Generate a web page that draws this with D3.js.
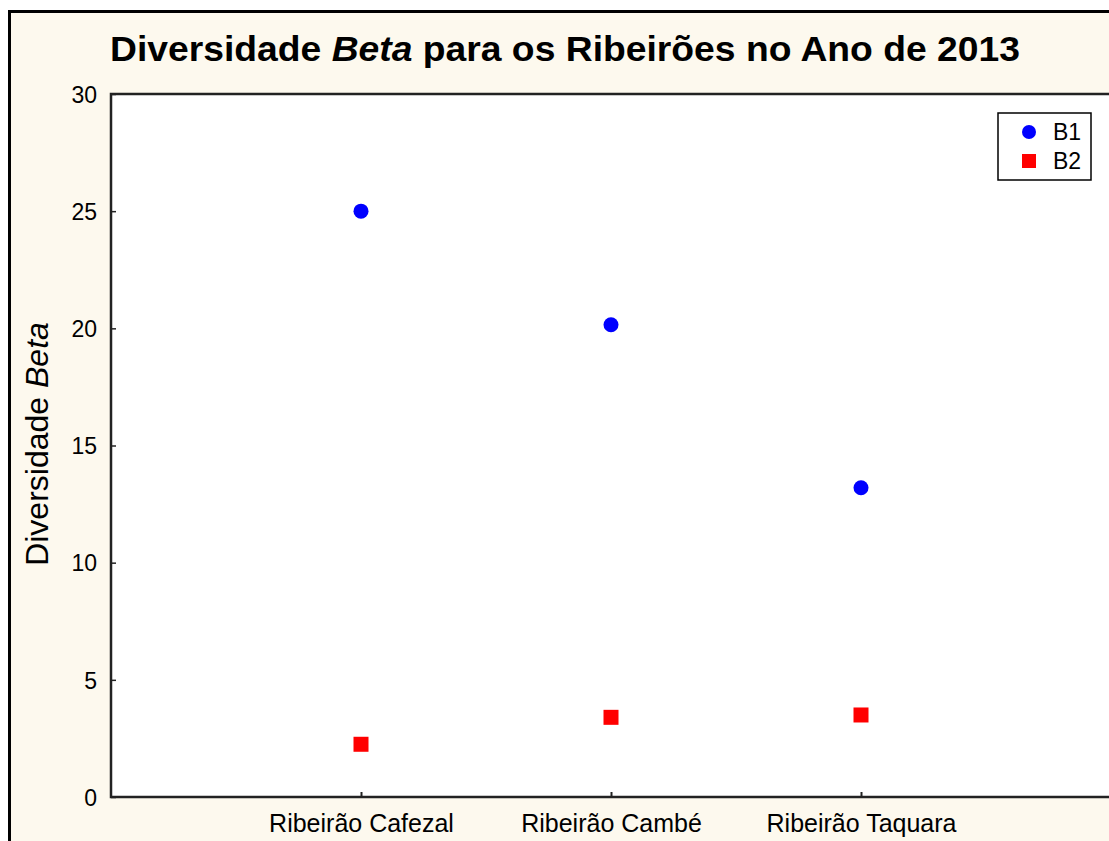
<!DOCTYPE html>
<html>
<head>
<meta charset="utf-8">
<script src="https://cdn.jsdelivr.net/npm/d3@7"></script>
<style>
  html, body { margin: 0; padding: 0; background: #fff; }
  svg { display: block; font-family: "Liberation Sans", Arial, sans-serif; }
</style>
</head>
<body>
<svg id="chart" width="1109" height="841"></svg>
<script>
const categories = ["Ribeirão Cafezal", "Ribeirão Cambé", "Ribeirão Taquara"];
const b1 = [25, 20.15, 13.2];
const b2 = [2.25, 3.4, 3.5];
const yTicks = [0, 5, 10, 15, 20, 25, 30];
const seriesNames = ["B1", "B2"];

const svg = d3.select("#chart");
const plotLeft = 111, plotRight = 1111, plotTop = 94, plotBottom = 797;

svg.append("rect").attr("x", 9.5).attr("y", 11.5).attr("width", 1120).attr("height", 850)
  .attr("fill", "#fdf9ee").attr("stroke", "#000").attr("stroke-width", 3);

svg.append("rect").attr("x", plotLeft).attr("y", plotTop)
  .attr("width", plotRight - plotLeft).attr("height", plotBottom - plotTop)
  .attr("fill", "#fff").attr("stroke", "#222").attr("stroke-width", 2.5);

const x = d3.scalePoint().domain(categories).range([plotLeft, plotRight]).padding(1);
const y = d3.scaleLinear().domain([0, 30]).range([plotBottom, plotTop]);

const yAxis = svg.append("g").attr("transform", `translate(${plotLeft},0)`)
  .call(d3.axisRight(y).tickValues(yTicks).tickSize(5).tickFormat(d3.format("d")));
yAxis.select(".domain").remove();
yAxis.selectAll("line").attr("stroke", "#222").attr("stroke-width", 1.5);
yAxis.selectAll("text").attr("x", -14).attr("dy", "0.36em").attr("text-anchor", "end")
  .attr("font-size", 23).attr("fill", "#000");

const xAxis = svg.append("g").attr("transform", `translate(0,${plotBottom})`)
  .call(d3.axisBottom(x).tickSize(-5).tickPadding(17));
xAxis.select(".domain").remove();
xAxis.selectAll("line").attr("stroke", "#222").attr("stroke-width", 2);
xAxis.selectAll("text").attr("font-size", 25).attr("fill", "#000");

svg.append("g").selectAll("circle").data(b1).join("circle")
  .attr("cx", (d, i) => x(categories[i])).attr("cy", d => y(d)).attr("r", 7.5)
  .attr("fill", "#0000ff");

svg.append("g").selectAll("rect").data(b2).join("rect")
  .attr("x", (d, i) => x(categories[i]) - 7.5).attr("y", d => y(d) - 7.5)
  .attr("width", 15).attr("height", 15).attr("fill", "#ff0000");

const title = svg.append("text").attr("x", 565).attr("y", 61).attr("text-anchor", "middle")
  .attr("font-size", 35).attr("font-weight", "bold")
  .attr("textLength", 910).attr("lengthAdjust", "spacingAndGlyphs");
title.append("tspan").text("Diversidade ");
title.append("tspan").attr("font-style", "italic").text("Beta");
title.append("tspan").text(" para os Ribeirões no Ano de 2013");

const ylab = svg.append("text").attr("transform", "translate(48,444) rotate(-90)")
  .attr("text-anchor", "middle").attr("font-size", 32);
ylab.append("tspan").text("Diversidade ");
ylab.append("tspan").attr("font-style", "italic").text("Beta");

const legend = svg.append("g");
legend.append("rect").attr("x", 998).attr("y", 113).attr("width", 93).attr("height", 67)
  .attr("fill", "#fff").attr("stroke", "#000").attr("stroke-width", 1.5);
const items = legend.selectAll("g").data(seriesNames).join("g")
  .attr("transform", (d, i) => `translate(1029,${132 + i * 29})`);
items.filter((d, i) => i === 0).append("circle").attr("r", 7).attr("fill", "#0000ff");
items.filter((d, i) => i === 1).append("rect").attr("x", -7).attr("y", -7)
  .attr("width", 14).attr("height", 14).attr("fill", "#ff0000");
items.append("text").attr("x", 24).attr("y", 8).attr("font-size", 23).text(d => d);
</script>
</body>
</html>
